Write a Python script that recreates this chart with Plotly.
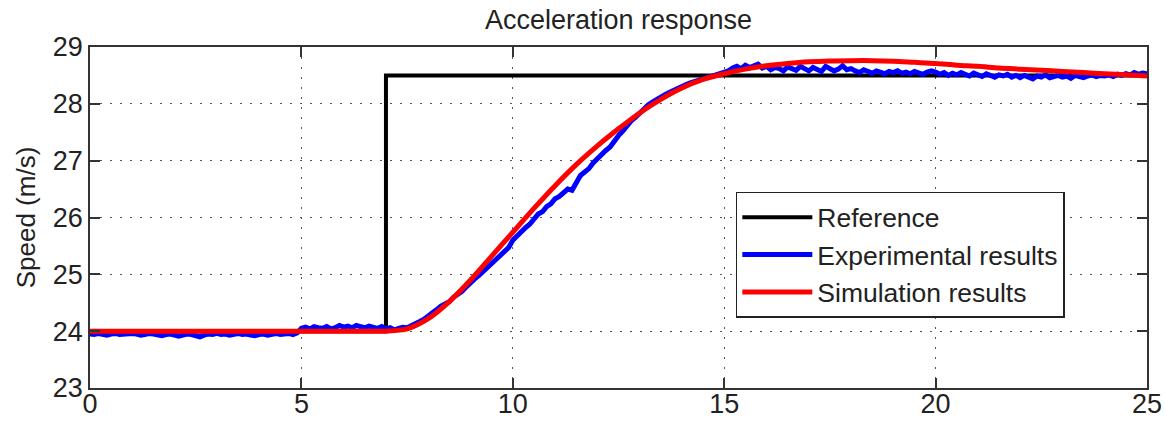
import plotly.graph_objects as go

# ---------------- data ----------------
ref_t = [0, 7, 7, 25]
ref_v = [24.0, 24.0, 28.5, 28.5]

sim_t = [0, 1, 2, 3, 4, 5, 6, 7, 7.5, 8, 8.5, 9, 9.5, 10, 10.5, 11, 11.5, 12, 12.5,
         13, 13.5, 14, 14.5, 15, 15.5, 16, 16.5, 17, 17.5, 18, 18.5, 19, 19.5, 20,
         20.5, 21, 21.5, 22, 22.5, 23, 23.5, 24, 24.5, 25]
sim_v = [24.0, 24.0, 24.0, 24.0, 24.0, 24.0, 24.0, 24.0, 24.04, 24.22, 24.52, 24.9,
         25.32, 25.74, 26.16, 26.56, 26.93, 27.26, 27.56, 27.84, 28.08, 28.28, 28.43,
         28.53, 28.61, 28.67, 28.71, 28.74, 28.755, 28.76, 28.76, 28.75, 28.73, 28.71,
         28.68, 28.66, 28.63, 28.61, 28.59, 28.57, 28.55, 28.53, 28.51, 28.49]

exp_t = [round(i * 0.1, 1) for i in range(251)]
exp_v = [
    23.95, 23.94, 23.96, 23.95, 23.93, 23.95, 23.96, 23.94, 23.95, 23.94,
    23.96, 23.95, 23.93, 23.94, 23.96, 23.95, 23.93, 23.92, 23.94, 23.95,
    23.93, 23.91, 23.93, 23.95, 23.94, 23.92, 23.90, 23.93, 23.95, 23.94,
    23.96, 23.94, 23.95, 23.93, 23.95, 23.96, 23.94, 23.95, 23.93, 23.92,
    23.94, 23.95, 23.93, 23.95, 23.96, 23.94, 23.95, 23.96, 23.94, 23.97,
    24.05, 24.07, 24.04, 24.08, 24.06, 24.05, 24.08, 24.04, 24.06, 24.10,
    24.07, 24.09, 24.06, 24.10, 24.08, 24.06, 24.09, 24.07, 24.05, 24.08,
    24.04, 24.06, 24.02, 24.05, 24.07, 24.06, 24.09, 24.12, 24.17, 24.21,
    24.26, 24.33, 24.38, 24.44, 24.48, 24.52, 24.60, 24.65, 24.70, 24.78,
    24.86, 24.92, 24.98, 25.05, 25.12, 25.18, 25.26, 25.33, 25.40, 25.47,
    25.60, 25.68, 25.73, 25.82, 25.88, 25.97, 26.06, 26.10, 26.19, 26.24,
    26.33, 26.37, 26.45, 26.50, 26.48, 26.60, 26.74, 26.80, 26.86, 26.96,
    27.04, 27.10, 27.18, 27.24, 27.36, 27.44, 27.52, 27.62, 27.70, 27.76,
    27.84, 27.92, 27.98, 28.03, 28.08, 28.12, 28.16, 28.20, 28.24, 28.28,
    28.31, 28.34, 28.37, 28.40, 28.42, 28.44, 28.46, 28.48, 28.50, 28.52,
    28.55, 28.58, 28.63, 28.66, 28.62, 28.68, 28.64, 28.67, 28.70, 28.63,
    28.66, 28.60, 28.64, 28.62, 28.58, 28.65, 28.61, 28.59, 28.66, 28.62,
    28.58, 28.64, 28.60, 28.57, 28.66, 28.62, 28.58, 28.61, 28.67, 28.60,
    28.62, 28.58, 28.55, 28.60, 28.57, 28.54, 28.58, 28.56, 28.53, 28.57,
    28.55, 28.58, 28.54, 28.56, 28.53, 28.57, 28.55, 28.52, 28.56, 28.58,
    28.56, 28.52, 28.55, 28.50, 28.54, 28.51, 28.55, 28.53, 28.49, 28.54,
    28.52, 28.48, 28.53, 28.50, 28.47, 28.51, 28.49, 28.52, 28.47, 28.50,
    28.46, 28.50, 28.48, 28.44, 28.49, 28.47, 28.51, 28.46, 28.48, 28.50,
    28.47, 28.49, 28.45, 28.50, 28.48, 28.46, 28.49, 28.51, 28.48, 28.50,
    28.49, 28.51, 28.48, 28.52, 28.50, 28.53, 28.51, 28.55, 28.52, 28.54,
    28.53,
]

x_ticks = [0, 5, 10, 15, 20, 25]
y_ticks = [23, 24, 25, 26, 27, 28, 29]

FONT = "Liberation Sans, Arial, Helvetica, sans-serif"
TXT = "#222222"

fig = go.Figure()
fig.add_trace(go.Scatter(x=ref_t, y=ref_v, mode="lines", name="Reference",
                         line=dict(color="#000000", width=4)))
fig.add_trace(go.Scatter(x=exp_t, y=exp_v, mode="lines", name="Experimental results",
                         line=dict(color="#0000ff", width=5)))
fig.add_trace(go.Scatter(x=sim_t, y=sim_v, mode="lines", name="Simulation results",
                         line=dict(color="#ff0000", width=5, shape="spline", smoothing=0.8)))

axis_common = dict(
    showline=True, linecolor="#333333", linewidth=1.5, mirror="ticks",
    ticks="inside", ticklen=10, tickwidth=1.5, tickcolor="#333333",
    showgrid=True, gridcolor="#555555", gridwidth=1, griddash="2px,8px",
    zeroline=False, automargin=False,
    tickfont=dict(family=FONT, size=27, color=TXT),
)

fig.update_xaxes(range=[0, 25], tickvals=x_ticks, ticklabelstandoff=-9, **axis_common)
fig.update_yaxes(range=[23, 29], tickvals=y_ticks,
                 title=dict(text="Speed (m/s)", font=dict(family=FONT, size=26, color=TXT),
                            standoff=10),
                 **axis_common)

fig.update_layout(
    width=1165, height=425,
    margin=dict(l=90, r=18, t=47, b=37),
    paper_bgcolor="white", plot_bgcolor="white",
    title=dict(text="Acceleration response", x=0.5, xref="paper", xanchor="center",
               y=1 - 20 / 425, yanchor="middle", automargin=False,
               font=dict(family=FONT, size=27, color=TXT)),
    font=dict(family=FONT, color=TXT),
    showlegend=True,
    legend=dict(x=0.611, y=0.575, xanchor="left", yanchor="top",
                bgcolor="white", bordercolor=TXT, borderwidth=1.5,
                font=dict(family=FONT, size=26.5, color=TXT),
                itemwidth=70, tracegroupgap=0),
)

fig.write_html("out.html", config={"displayModeBar": False},
               post_script="document.body.style.margin='0';document.body.style.padding='0';")
